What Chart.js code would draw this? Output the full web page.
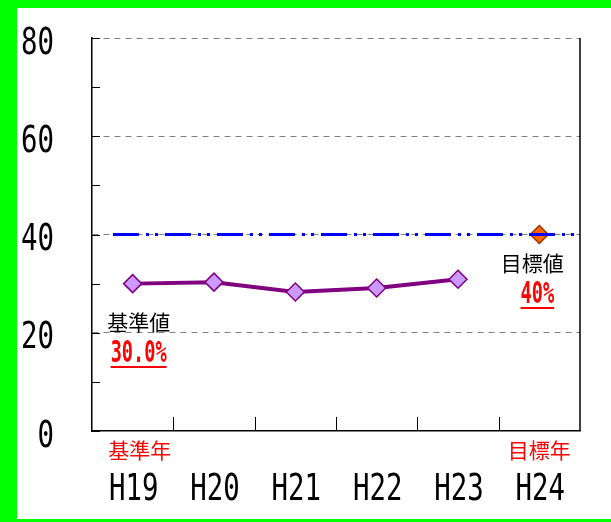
<!DOCTYPE html>
<html>
<head>
<meta charset="utf-8">
<script src="https://cdn.jsdelivr.net/npm/chart.js@4/dist/chart.umd.min.js"></script>
<style>
  html, body { margin: 0; padding: 0; background: #fff; overflow: hidden; }
  #wrap { width: 611px; height: 522px; overflow: hidden; background: #fff; }
  canvas { display: block; }
</style>
</head>
<body>
<div id="wrap"><canvas id="chart" width="611" height="522"></canvas></div>
<script>
// Data
const years = ['H19', 'H20', 'H21', 'H22', 'H23', 'H24'];
const actual = [30.0, 30.3, 28.3, 29.1, 30.9, null];
const target = [null, null, null, null, null, 40];
const targetLine = 40;
const yTicks = [0, 20, 40, 60, 80];

const mono = '"DejaVu Sans Mono", "Liberation Mono", monospace';
const cjk = '"Noto Sans CJK JP", "Noto Sans", sans-serif';

// narrow text: draw with a horizontal squeeze
function narrowText(ctx, text, x, y, sx) {
    ctx.save();
    ctx.translate(x, y);
    ctx.scale(sx, 1);
    ctx.fillText(text, 0, 0);
    ctx.restore();
}

// Green frame, inward ticks, right border, labels, target line and notes
const decor = {
    id: 'decor',
    beforeDraw(chart) {
        const ctx = chart.ctx;
        ctx.save();
        ctx.fillStyle = '#fff';
        ctx.fillRect(0, 0, chart.width, chart.height);
        ctx.fillStyle = '#00ff00';
        ctx.fillRect(0, 0, chart.width, 8);
        ctx.fillRect(0, 0, 17, chart.height);
        ctx.fillRect(0, chart.height - 3, chart.width, 3);
        ctx.restore();
    },
    afterDatasetsDraw(chart) {
        const { ctx, chartArea: a, scales: { x, y } } = chart;
        ctx.save();

        // right border
        ctx.strokeStyle = '#000';
        ctx.lineWidth = 1.5;
        ctx.beginPath();
        ctx.moveTo(a.right, a.top);
        ctx.lineTo(a.right, a.bottom);
        ctx.stroke();

        // inward minor ticks on y axis
        ctx.lineWidth = 1;
        for (let v = 0; v <= 80; v += 10) {
            const py = Math.round(y.getPixelForValue(v)) + 0.5;
            ctx.beginPath();
            ctx.moveTo(a.left, py);
            ctx.lineTo(a.left + 8, py);
            ctx.stroke();
        }
        // category boundary ticks on x axis
        for (let i = 1; i < years.length; i++) {
            const px = Math.round((x.getPixelForValue(i - 1) + x.getPixelForValue(i)) / 2) + 0.5;
            ctx.beginPath();
            ctx.moveTo(px, a.bottom);
            ctx.lineTo(px, a.bottom - 14);
            ctx.stroke();
        }

        // target line (dash-dot-dot), drawn over the markers
        const ty = y.getPixelForValue(targetLine);
        ctx.strokeStyle = '#0000ff';
        ctx.lineWidth = 3;
        ctx.setLineDash([26, 7, 3, 6, 3, 7]);
        ctx.beginPath();
        ctx.moveTo(a.left + 21, ty);
        ctx.lineTo(a.right - 4, ty);
        ctx.stroke();
        ctx.setLineDash([]);

        // tick labels
        ctx.fillStyle = '#000';
        ctx.textBaseline = 'middle';
        ctx.font = '37px ' + mono;
        ctx.textAlign = 'right';
        yTicks.forEach(v => {
            narrowText(ctx, String(v), a.left - 38, y.getPixelForValue(v) + 6, 0.74);
        });
        ctx.textAlign = 'center';
        years.forEach((t, i) => {
            narrowText(ctx, t, x.getPixelForValue(i) + 1, 490, 0.74);
        });

        // notes
        const x0 = x.getPixelForValue(0);
        const x5 = x.getPixelForValue(5);
        ctx.font = '21px ' + cjk;
        ctx.fillText('基準値', x0 + 6, 322);
        ctx.fillText('目標値', x5 - 7, 263);

        ctx.fillStyle = '#ff0000';
        ctx.strokeStyle = '#ff0000';
        ctx.lineWidth = 2;
        ctx.font = 'bold 30px ' + mono;
        const notes = [['30.0%', x0 + 6, 354], ['40%', x5 - 2, 295]];
        notes.forEach(([t, px, py]) => {
            narrowText(ctx, t, px, py, 0.62);
            const w = ctx.measureText(t).width * 0.62;
            ctx.beginPath();
            ctx.moveTo(px - w / 2, py + 13);
            ctx.lineTo(px + w / 2, py + 13);
            ctx.stroke();
        });

        // red year captions
        ctx.font = '21px ' + cjk;
        ctx.fillText('基準年', x0 + 7, 450);
        ctx.fillText('目標年', x5, 450);
        ctx.restore();
    }
};

new Chart(document.getElementById('chart'), {
    type: 'line',
    data: {
        labels: years,
        datasets: [
            {
                data: actual,
                borderColor: '#800080',
                borderWidth: 4,
                pointStyle: 'rectRot',
                pointRadius: 9,
                pointBackgroundColor: '#cc99ff',
                pointBorderColor: '#800080',
                pointBorderWidth: 1.5,
                tension: 0
            },
            {
                data: target,
                showLine: false,
                pointStyle: 'rectRot',
                pointRadius: 9,
                pointBackgroundColor: '#ff6600',
                pointBorderColor: '#993300',
                pointBorderWidth: 1.5
            }
        ]
    },
    options: {
        responsive: false,
        animation: false,
        layout: { padding: { top: 38, right: 31, left: 0, bottom: 0 } },
        plugins: { legend: { display: false }, tooltip: { enabled: false } },
        scales: {
            x: {
                offset: true,
                grid: { display: false, drawTicks: false },
                border: { color: '#000', width: 1.5 },
                ticks: { display: false },
                afterFit(s) { s.height = 91; }
            },
            y: {
                min: 0,
                max: 80,
                afterBuildTicks(s) { s.ticks = yTicks.map(v => ({ value: v })); },
                grid: {
                    drawTicks: false,
                    color: c => (c.tick && c.tick.value > 0 ? '#808080' : 'rgba(0,0,0,0)'),
                    lineWidth: 1
                },
                border: { color: '#000', width: 1.5, dash: [6, 5] },
                ticks: { display: false },
                afterFit(s) { s.width = 92; }
            }
        }
    },
    plugins: [decor]
});
</script>
</body>
</html>
